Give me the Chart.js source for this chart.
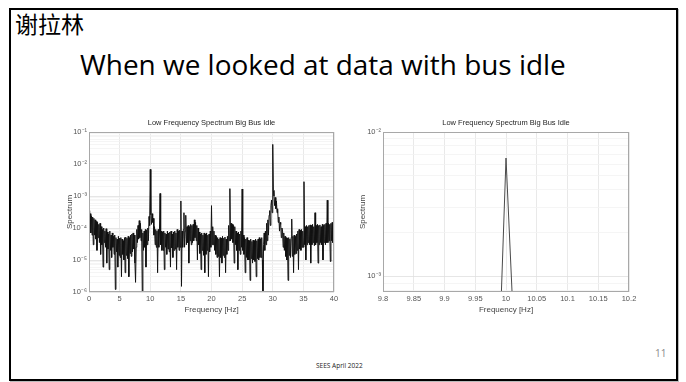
<!DOCTYPE html>
<html><head><meta charset="utf-8">
<script src="https://cdn.jsdelivr.net/npm/chart.js@4.4.1/dist/chart.umd.min.js"></script>
<style>
html,body{margin:0;padding:0;background:#fff;width:686px;height:382px;overflow:hidden;}
#frame{position:absolute;left:9px;top:8px;width:669px;height:373px;box-sizing:border-box;border:2px solid #000;box-shadow:1px 1px 0 #bbb;}
#name{position:absolute;left:15px;top:7px;font-family:"Noto Sans CJK SC";font-size:23px;line-height:32px;color:#000;}
#heading{position:absolute;left:80px;top:44px;font-family:"Open Sans";font-size:27px;line-height:40px;color:#000;white-space:nowrap;}
#footer{position:absolute;left:316px;top:361px;font-family:"Open Sans";font-size:6.5px;line-height:9px;color:#222;white-space:nowrap;}
#page{position:absolute;left:655px;top:346px;font-family:"Open Sans";font-size:10px;line-height:14px;color:#8a8a8a;}
canvas{position:absolute;}
</style></head>
<body>
<div id="frame"></div>
<div id="name">谢拉林</div>
<div id="heading">When we looked at data with bus idle</div>
<canvas id="c1" width="295" height="205" style="left:50px;top:112px"></canvas>
<canvas id="c2" width="295" height="205" style="left:345px;top:112px"></canvas>
<div id="footer">SEES April 2022</div>
<div id="page">11</div>
<script>
// ---------- data ----------
const chartTitle = 'Low Frequency Spectrum Big Bus Idle';
const xTitle = 'Frequency [Hz]';
const yTitle = 'Spectrum';

// left panel: spectrum sampled every 0.1 Hz from 0 to 40 Hz
const leftStartHz = 0;
const leftStepHz = 0.1;
const leftSpectrum = [
 3.5e-4,9e-5,2.8e-4,7e-5,2.4e-4,6e-5,2.2e-4,3e-5,2e-4,6e-5,
 1.8e-4,4.5e-5,1.6e-4,2e-5,1.5e-4,5e-5,1.3e-4,3.5e-5,1.4e-4,1.5e-5,
 1.1e-4,3e-5,9e-5,6e-6,1e-4,3.5e-5,8e-5,2.5e-5,9.5e-5,8e-6,
 7.5e-5,2.2e-5,6.5e-5,5e-6,8e-5,2e-5,6e-5,1.2e-5,7e-5,2.5e-5,
 5.5e-5,1.5e-5,6e-5,1.2e-6,5e-5,1.8e-5,4.5e-5,6e-6,5.5e-5,1.4e-5,
 4.8e-5,1.2e-5,5e-5,3e-6,4.5e-5,1.5e-5,4e-5,1e-5,5e-5,4e-6,
 5.2e-5,1.4e-5,4.8e-5,1.1e-5,5.5e-5,3e-6,5e-5,1.6e-5,6e-5,1.3e-5,
 6.5e-5,1.8e-5,7e-5,2.2e-5,6e-5,8e-6,2e-6,2.5e-5,9e-5,3.5e-5,
 1.2e-4,4.5e-5,1.7e-4,5e-5,1.4e-4,4e-5,9e-5,8e-7,7e-5,2e-5,
 8e-5,2.5e-5,9e-5,6e-6,8.5e-5,3e-5,1e-4,4e-5,2.3e-4,1.2e-4,
 6.8e-3,2.6e-4,1.3e-4,2.8e-4,1.5e-4,2e-4,6e-5,1.1e-4,3e-5,9e-5,
 2.5e-5,8e-5,4e-6,9e-5,2.5e-5,7.5e-5,1.2e-3,3e-5,8e-5,2e-5,
 7.5e-5,2e-5,8e-5,5e-6,7e-5,2.5e-5,6.5e-5,1.5e-5,8e-5,2.2e-5,
 7e-5,1.8e-5,7.5e-5,6e-6,8e-5,2.4e-5,6.5e-5,1.2e-5,7.5e-5,2e-5,
 8e-5,2.2e-5,7e-5,5e-6,9e-5,2.5e-5,8e-5,2e-5,8.5e-5,2.5e-5,
 7e-4,1.5e-6,8e-5,2.5e-5,9e-5,3e-4,2.5e-5,8e-5,2.5e-4,3e-5,
 1.1e-4,3.5e-5,1.2e-4,8e-6,1.1e-4,4e-5,1.3e-4,3e-5,1.2e-4,3.5e-5,
 1.3e-4,4e-5,1.8e-4,5e-5,1.5e-4,4e-5,1.2e-4,1e-5,1e-4,3e-5,
 7.5e-5,1.6e-5,6.5e-5,5e-6,7e-5,2e-5,6e-5,1.4e-5,7e-5,4e-6,
 6.5e-5,1.5e-5,7e-5,2e-5,6e-5,3e-6,6.5e-5,1.8e-5,8e-5,2.5e-5,
 5e-4,3e-5,1.1e-4,3e-5,8e-5,2e-5,6e-5,1.5e-5,5.5e-5,1.2e-5,
 5e-5,1.3e-5,4.5e-5,3e-6,5e-5,1.2e-5,4.8e-5,8e-6,5.5e-5,1.4e-5,
 4.8e-5,1.2e-5,5.2e-5,4e-6,4.5e-5,1.5e-5,5.5e-5,2e-5,1.2e-4,4e-5,
 1.7e-3,4e-5,1.4e-4,4.5e-5,1.3e-4,3.5e-5,1.2e-4,8e-6,1.1e-4,3e-5,
 8e-5,2e-5,7e-5,5e-6,7.5e-5,2e-5,6.5e-5,1.5e-5,8e-5,2.5e-5,
 1.65e-3,2e-5,6e-5,1.5e-5,5e-5,4e-6,4.5e-5,1.2e-5,5e-5,1e-5,
 4.2e-5,1e-5,4e-5,2.3e-6,4.5e-5,1.1e-5,3.8e-5,8e-6,4.2e-5,1e-5,
 4e-5,9e-6,4.5e-5,3e-6,4e-5,1.1e-5,4.5e-5,1e-5,5e-5,1.2e-5,
 4.5e-5,1.2e-5,5e-5,1e-5,8e-7,3e-5,7e-5,2e-5,8e-5,3e-5,
 1.4e-4,4e-5,1.8e-4,6e-5,2.5e-4,3.5e-4,1.2e-4,5e-4,7.5e-4,3e-4,
 4.1e-2,1.5e-3,1e-3,5e-4,9e-4,4e-4,7e-4,3e-4,4e-4,1.5e-4,
 2.2e-4,8e-5,1.5e-4,1.3e-4,5e-5,1e-4,8e-5,2.5e-5,7e-5,2e-5,
 5.5e-5,1.3e-5,5e-5,1e-5,4.8e-5,2.3e-6,5e-5,1.4e-5,4.5e-5,1.2e-5,
 5e-5,1.9e-4,1.3e-5,5.5e-5,4e-6,6e-5,1.5e-5,5.5e-5,1.6e-5,6.5e-5,
 2e-5,8e-5,5e-6,9e-5,2.2e-5,8.5e-5,2e-5,9e-5,2.5e-5,8e-5,
 2.5e-5,2.8e-3,3e-5,1.1e-4,1e-5,1.2e-4,3e-5,1.1e-4,3.5e-5,1.2e-4,
 3e-5,1.25e-4,8e-6,1.2e-4,3e-5,1.3e-4,3.5e-5,1.1e-4,2.8e-5,3e-4,
 3e-5,1.2e-4,3.5e-5,1.3e-4,8e-6,1.2e-4,3e-5,1.25e-4,3.5e-5,1.1e-4,
 3e-5,1.3e-4,1e-5,1.2e-4,3.5e-5,1.3e-4,3e-5,1.4e-4,3.5e-5,7.4e-4,
 3.5e-5,1.4e-4,4e-5,1.3e-4,9e-6,1.4e-4,4e-5,1.5e-4,3.5e-5,1.4e-4,
 1.3e-4
];
const leftXTicks = [0,5,10,15,20,25,30,35,40];
const leftXTickLabels = ['0','5','10','15','20','25','30','35','40'];
const leftYDecades = [1e-6,1e-5,1e-4,1e-3,1e-2,1e-1];
const leftYTickLabels = ['10⁻⁶','10⁻⁵','10⁻⁴','10⁻³','10⁻²','10⁻¹'];

// right panel: zoom around 10 Hz, sampled every 0.01 Hz from 9.80 to 10.20 Hz
const rightStartHz = 9.8;
const rightStepHz = 0.01;
const rightSpectrum = [
 1.8e-4,2.2e-4,1.5e-4,2.6e-4,1.9e-4,2.4e-4,1.6e-4,2.1e-4,2.8e-4,1.7e-4,
 2.3e-4,1.9e-4,2.7e-4,2.0e-4,1.6e-4,2.5e-4,2.2e-4,1.8e-4,2.9e-4,3.8e-4,
 6.6e-3,
 7.5e-4,2.6e-4,2.0e-4,2.4e-4,1.7e-4,2.2e-4,1.9e-4,2.6e-4,1.8e-4,2.1e-4,
 2.5e-4,1.6e-4,2.3e-4,2.0e-4,1.7e-4,2.4e-4,1.9e-4,2.2e-4,1.8e-4,2.0e-4
];
const rightXTicks = [9.8,9.85,9.9,9.95,10,10.05,10.1,10.15,10.2];
const rightXTickLabels = ['9.8','9.85','9.9','9.95','10','10.05','10.1','10.15','10.2'];
const rightYMin = 7.8e-4, rightYMax = 1e-2;
const rightYDecades = [1e-3,1e-2];
const rightYTickLabels = ['10⁻³','10⁻²'];

// ---------- helpers ----------
function isDecade(v){const l=Math.log10(v);return Math.abs(l-Math.round(l))<1e-6;}
function logGridValues(min,max){
  const out=[];
  for(let e=Math.floor(Math.log10(min));e<=Math.ceil(Math.log10(max));e++){
    for(let m=1;m<10;m++){const v=m*Math.pow(10,e); if(v>=min*0.9999&&v<=max*1.0001) out.push(v);}
  }
  return out;
}
function labelFor(v, decades, labels){
  for(let i=0;i<decades.length;i++){ if(Math.abs(Math.log10(v)-Math.log10(decades[i]))<1e-6) return labels[i]; }
  return '';
}
const boxPlugin = {
  id:'box',
  afterDatasetsDraw(chart){
    const a=chart.chartArea, c=chart.ctx;
    c.save(); c.strokeStyle='#a8a8a8'; c.lineWidth=1;
    c.strokeRect(Math.round(a.left)+0.5, Math.round(a.top)+0.5, Math.round(a.right-a.left)-1, Math.round(a.bottom-a.top)-1);
    c.restore();
  }
};
const FONT='"Liberation Sans", Arial, sans-serif';

function makeChart(id, points, lineColor, lineWidth, xMin, xMax, xTicks, xLabels, yMin, yMax, decades, yLabels, yWidth, yTitlePad){
  return new Chart(document.getElementById(id), {
    type:'line',
    data:{datasets:[{data:points, borderColor:lineColor, borderWidth:lineWidth, pointRadius:0, tension:0, fill:false}]},
    options:{
      responsive:false, animation:false, devicePixelRatio:1,
      layout:{padding:{left:0,right:11,top:0,bottom:0}},
      plugins:{
        legend:{display:false}, tooltip:{enabled:false},
        title:{display:true, text:chartTitle, fullSize:false, color:'#262626',
               font:{family:FONT,size:7.5,weight:'normal',lineHeight:1.2}, padding:{top:6,bottom:5}}
      },
      scales:{
        x:{type:'linear', min:xMin, max:xMax,
           afterBuildTicks(s){ s.ticks = xTicks.map(v=>({value:v})); },
           afterFit(s){ s.height = 25; },
           ticks:{autoSkip:false, maxRotation:0, padding:2.5, color:'#555',
                  font:{family:FONT,size:7.5,lineHeight:1.2},
                  callback(v){ const i=xTicks.findIndex(t=>Math.abs(t-v)<1e-9); return i>=0?xLabels[i]:''; }},
           grid:{drawTicks:false, color:'#e3e3e3', lineWidth:0.8},
           border:{display:false},
           title:{display:true, text:xTitle, color:'#444', font:{family:FONT,size:8,lineHeight:1.2}, padding:{top:0,bottom:2.7}}
        },
        y:{type:'logarithmic', min:yMin, max:yMax,
           afterBuildTicks(s){ s.ticks = logGridValues(yMin,yMax).map(v=>({value:v})); },
           afterFit(s){ s.width = yWidth; },
           ticks:{autoSkip:false, padding:2, color:'#555',
                  font:{family:FONT,size:7.5,lineHeight:1.2},
                  callback(v){ return labelFor(v, decades, yLabels); }},
           grid:{drawTicks:false, lineWidth:0.8, color(ctx){ return isDecade(ctx.tick.value)?'#e0e0e0':'#f2f2f2'; }},
           border:{display:false},
           title:{display:true, text:yTitle, color:'#444', font:{family:FONT,size:8,lineHeight:1.2}, padding:{top:yTitlePad,bottom:0}}
        }
      }
    },
    plugins:[boxPlugin]
  });
}

const leftPoints = leftSpectrum.map((v,i)=>({x: leftStartHz + i*leftStepHz, y:v}));
const rightPoints = rightSpectrum.map((v,i)=>({x: rightStartHz + i*rightStepHz, y:v}));

makeChart('c1', leftPoints, '#111', 1.0, 0, 40, leftXTicks, leftXTickLabels, 1e-6, 1e-1, leftYDecades, leftYTickLabels, 39, 15);
makeChart('c2', rightPoints, '#4a4a4a', 1, 9.8, 10.2, rightXTicks, rightXTickLabels, rightYMin, rightYMax, rightYDecades, rightYTickLabels, 38, 13);

// fit heading to the reference width
(function(){
  const h=document.getElementById('heading');
  const w=h.getBoundingClientRect().width;
  h.style.fontSize=(27*486/w).toFixed(2)+'px';
})();
</script>
</body></html>
